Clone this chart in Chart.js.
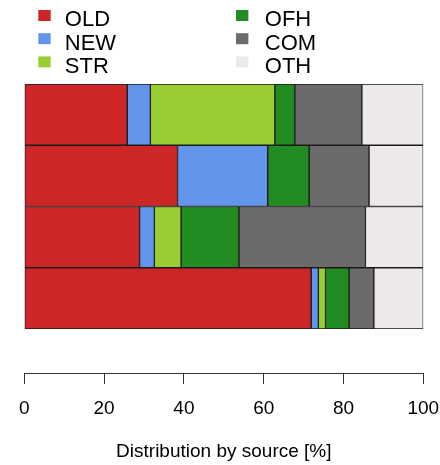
<!DOCTYPE html>
<html>
<head>
<meta charset="utf-8">
<title>Distribution by source</title>
<script src="https://cdn.jsdelivr.net/npm/chart.js@4.4.0/dist/chart.umd.min.js"></script>
<style>
  html, body { margin: 0; padding: 0; background: #fff; }
  canvas { display: block; }
</style>
</head>
<body>
<canvas id="chart" width="440" height="465"></canvas>
<script>
// groups, top bar first
const groups = ['1', '2', '3', '4'];

// share of each source per group [%]
const OLD = [25.8, 38.4, 28.9, 71.9];
const NEW = [5.8, 22.6, 3.7, 1.8];
const STR = [31.2, 0.0, 6.7, 1.8];
const OFH = [5.0, 10.4, 14.5, 5.9];
const COM = [16.8, 15.0, 31.7, 6.2];
const OTH = [15.4, 13.6, 14.5, 12.4];

const sources = ['OLD', 'NEW', 'STR', 'OFH', 'COM', 'OTH'];
const colors = ['#CD2626', '#6495ED', '#9ACD32', '#228B22', '#6B6B6B', '#EEE9E9'];
const xTicks = [0, 20, 40, 60, 80, 100];

const FONT = '"Liberation Sans", Arial, sans-serif';

// legend in two columns of three, drawn above the bars
const sourceLegend = {
  id: 'sourceLegend',
  afterDraw(chart) {
    const ctx = chart.ctx;
    const boxX = [38.3, 236];
    const textX = [64.8, 264.8];
    ctx.save();
    ctx.font = '22px ' + FONT;
    ctx.textAlign = 'left';
    ctx.textBaseline = 'alphabetic';
    chart.data.datasets.forEach((ds, i) => {
      const col = Math.floor(i / 3);
      const row = i % 3;
      const y = 10 + row * 23.2;
      ctx.fillStyle = ds.backgroundColor;
      ctx.fillRect(boxX[col], y, 12.4, 11);
      ctx.fillStyle = '#000';
      ctx.fillText(ds.label, textX[col], y + 16.3);
    });
    ctx.restore();
  }
};

// push the x axis down, away from the bars
const axisGap = 44;
const detachAxis = {
  id: 'detachAxis',
  afterLayout(chart) {
    chart.scales.x.top += axisGap;
  }
};

const series = [OLD, NEW, STR, OFH, COM, OTH];

new Chart(document.getElementById('chart'), {
  type: 'bar',
  data: {
    labels: groups,
    datasets: series.map((values, i) => ({
      label: sources[i],
      data: values,
      backgroundColor: colors[i],
      borderColor: '#1a1a1a',
      borderWidth: 1,
      borderSkipped: false,
      barPercentage: 1,
      categoryPercentage: 1
    }))
  },
  options: {
    indexAxis: 'y',
    responsive: false,
    animation: false,
    events: [],
    layout: { padding: { left: 24.3, right: 16.7, top: 84, bottom: 0 } },
    plugins: {
      legend: { display: false },
      tooltip: { enabled: false }
    },
    scales: {
      y: { stacked: true, display: false },
      x: {
        stacked: true,
        min: 0,
        max: 100,
        afterBuildTicks: (scale) => { scale.ticks = xTicks.map(v => ({ value: v })); },
        afterFit: (scale) => {
          scale.height = 136;
          // let the end labels run past the plot edges
          scale.paddingLeft = 0;
          scale.paddingRight = 0;
        },
        grid: {
          drawOnChartArea: false,
          drawTicks: true,
          tickLength: 11,
          color: '#333',
          lineWidth: 1
        },
        border: { display: true, color: '#333', width: 1 },
        ticks: {
          color: '#000',
          padding: 13,
          maxRotation: 0,
          autoSkip: false,
          font: { family: FONT, size: 19 }
        },
        title: {
          display: true,
          text: 'Distribution by source [%]',
          color: '#000',
          padding: { top: 0, bottom: 2 },
          font: { family: FONT, size: 19 }
        }
      }
    }
  },
  plugins: [sourceLegend, detachAxis]
});
</script>
</body>
</html>
